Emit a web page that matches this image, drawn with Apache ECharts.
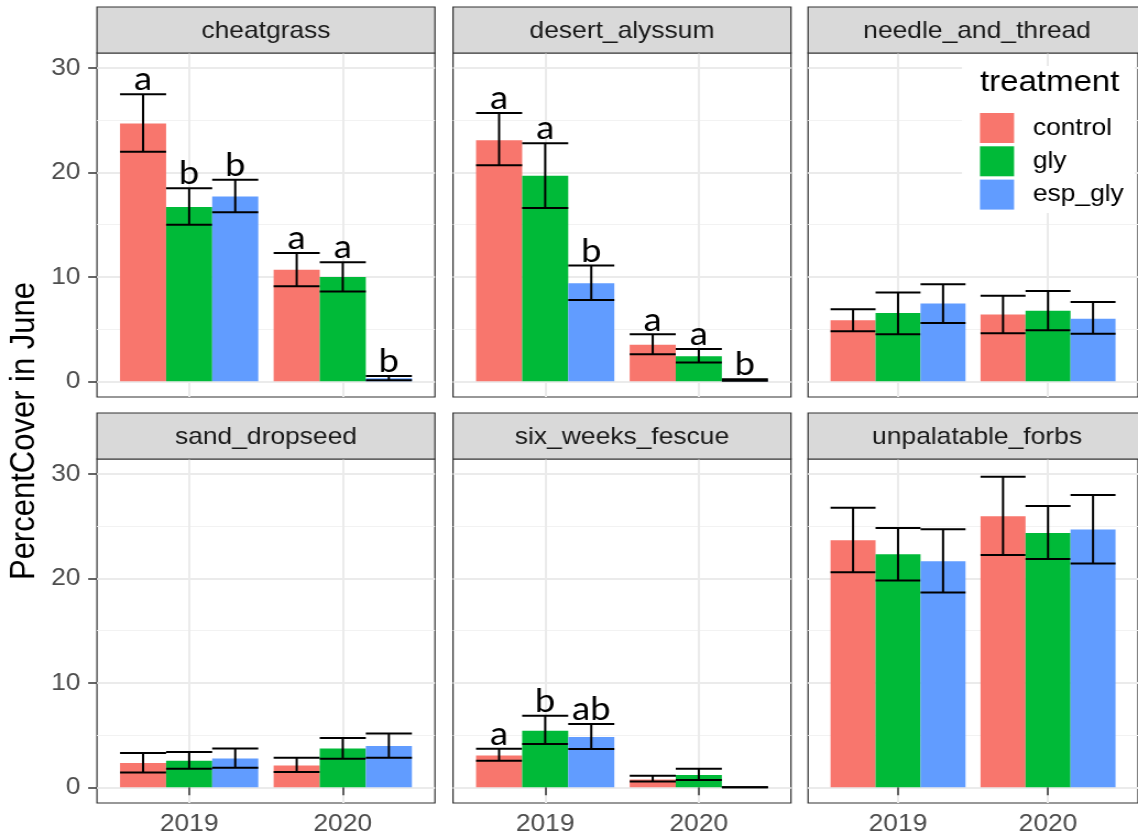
<!DOCTYPE html>
<html>
<head>
<meta charset="utf-8">
<script src="https://cdn.jsdelivr.net/npm/echarts@6/dist/echarts.min.js"></script>
<style>
  html, body { margin: 0; padding: 0; overflow: hidden; background: #fff; width: 1138px; height: 840px; }
  /* the figure is drawn a little narrower and widened horizontally as a whole */
  #chart { width: 1034px; height: 840px; transform: scaleX(1.10058); transform-origin: 0 0; }
</style>
</head>
<body>
<div id="chart"></div>
<script>
// ---- data ---------------------------------------------------------------
const species = ['cheatgrass', 'desert_alyssum', 'needle_and_thread',
                 'sand_dropseed', 'six_weeks_fescue', 'unpalatable_forbs'];
const years = ['2019', '2020'];
const treatments = ['control', 'gly', 'esp_gly'];
const yTicks = [0, 10, 20, 30];
const yMinorTicks = [5, 15, 25];

// rows: control, gly, esp_gly; columns: 2019, 2020
const cheatgrassMean  = [[24.7, 10.7], [16.7, 10.0], [17.7, 0.3]];
const cheatgrassLow   = [[22.0, 9.1], [15.0, 8.6], [16.2, 0.1]];
const cheatgrassHigh  = [[27.5, 12.3], [18.5, 11.4], [19.3, 0.5]];
const cheatgrassLetters = [['a', 'a'], ['b', 'a'], ['b', 'b']];

const alyssumMean  = [[23.1, 3.5], [19.7, 2.4], [9.4, 0.1]];
const alyssumLow   = [[20.7, 2.6], [16.6, 1.8], [7.8, 0.05]];
const alyssumHigh  = [[25.7, 4.5], [22.8, 3.1], [11.1, 0.2]];
const alyssumLetters = [['a', 'a'], ['a', 'a'], ['b', 'b']];

const needleMean  = [[5.85, 6.4], [6.55, 6.75], [7.45, 6.0]];
const needleLow   = [[4.8, 4.6], [4.5, 4.9], [5.6, 4.55]];
const needleHigh  = [[6.9, 8.2], [8.5, 8.65], [9.3, 7.6]];

const dropseedMean  = [[2.33, 2.1], [2.55, 3.73], [2.77, 3.96]];
const dropseedLow   = [[1.43, 1.47], [1.79, 2.74], [1.88, 2.84]];
const dropseedHigh  = [[3.29, 2.84], [3.38, 4.72], [3.73, 5.16]];

const fescueMean  = [[3.06, 0.74], [5.42, 1.18], [4.82, 0]];
const fescueLow   = [[2.55, 0.55], [4.15, 0.71], [3.67, 0]];
const fescueHigh  = [[3.7, 1.12], [6.85, 1.79], [6.06, 0]];
const fescueLetters = [['a', ''], ['b', ''], ['ab', '']];

const forbsMean  = [[23.66, 25.96], [22.33, 24.36], [21.66, 24.69]];
const forbsLow   = [[20.61, 22.26], [19.81, 21.88], [18.67, 21.44]];
const forbsHigh  = [[26.79, 29.75], [24.84, 26.94], [24.72, 27.99]];

const panelData = [
  [cheatgrassMean, cheatgrassLow, cheatgrassHigh, cheatgrassLetters],
  [alyssumMean, alyssumLow, alyssumHigh, alyssumLetters],
  [needleMean, needleLow, needleHigh, null],
  [dropseedMean, dropseedLow, dropseedHigh, null],
  [fescueMean, fescueLow, fescueHigh, fescueLetters],
  [forbsMean, forbsLow, forbsHigh, null]
];

// ---- styling / layout ---------------------------------------------------
const treatmentColors = ['#F8766D', '#00BA38', '#619CFF'];
const FONT = '"Liberation Sans", Arial, sans-serif';
const LETTER_FONT = 'Lato, "Open Sans", sans-serif';
const colLeft = [88.1, 411.6, 734.2];
const panelW = 307.1;
const rowTop = [53, 459];
const panelH = 344;
const stripH = 46;
const Y_MIN = -1.5, Y_MAX = 31.45;
const X_MIN = 0.4, X_MAX = 2.6;
const dodge = [-0.3, 0, 0.3];
const barHalf = 0.15;

const grids = [], xAxes = [], yAxes = [], series = [], graphics = [];

species.forEach((name, p) => {
  const row = Math.floor(p / 3), col = p % 3;
  const left = colLeft[col], top = rowTop[row];
  const bottomRow = row === 1, firstCol = col === 0;

  grids.push({
    left: left, top: top, width: panelW, height: panelH,
    show: true, backgroundColor: '#ffffff', borderColor: '#333333', borderWidth: 1.2
  });

  xAxes.push({
    type: 'value', gridIndex: p, min: X_MIN, max: X_MAX,
    axisLine: { show: false },
    axisTick: { show: bottomRow, customValues: [1, 2], length: 8,
                lineStyle: { color: '#333333', width: 1.5 } },
    axisLabel: { show: bottomRow, customValues: [1, 2], margin: 9,
                 formatter: v => years[Math.round(v) - 1],
                 color: '#4D4D4D', fontSize: 24, fontFamily: FONT },
    splitLine: { show: true, lineStyle: { color: '#EBEBEB', width: 2 } }
  });

  // major grid + tick labels
  yAxes.push({
    type: 'value', gridIndex: p, min: Y_MIN, max: Y_MAX,
    axisLine: { show: false },
    axisTick: { show: firstCol, customValues: yTicks, length: 8,
                lineStyle: { color: '#333333', width: 1.5 } },
    axisLabel: { show: firstCol, customValues: yTicks, margin: 15,
                 color: '#4D4D4D', fontSize: 24, fontFamily: FONT },
    splitLine: { show: true, lineStyle: { color: '#EBEBEB', width: 2 } }
  });
  // minor grid only
  yAxes.push({
    type: 'value', gridIndex: p, min: Y_MIN, max: Y_MAX,
    axisLine: { show: false },
    axisTick: { show: false, customValues: yMinorTicks },
    axisLabel: { show: false },
    splitLine: { show: true, lineStyle: { color: '#F2F2F2', width: 1.2 } }
  });

  const [means, lows, highs, letters] = panelData[p];

  treatments.forEach((tr, t) => {
    series.push({
      type: 'custom', name: tr,
      xAxisIndex: p, yAxisIndex: 2 * p,
      itemStyle: { color: treatmentColors[t] },
      silent: true, z: 3,
      encode: { x: 0, y: 1 },
      data: years.map((yr, i) => [i + 1 + dodge[t], means[t][i], lows[t][i], highs[t][i]]),
      renderItem: (params, api) => {
        const xc = api.value(0), m = api.value(1), lo = api.value(2), hi = api.value(3);
        const a = api.coord([xc - barHalf, m]);
        const b = api.coord([xc + barHalf, 0]);
        const pLo = api.coord([xc, lo]);
        const pHi = api.coord([xc, hi]);
        const xL = a[0], xR = b[0];
        const lineStyle = { stroke: '#000000', lineWidth: 2 };
        const children = [];
        if (Math.abs(b[1] - a[1]) > 0) {
          children.push({
            type: 'rect',
            shape: { x: xL, y: Math.min(a[1], b[1]), width: xR - xL, height: Math.abs(b[1] - a[1]) },
            style: { fill: api.visual('color') }
          });
        }
        children.push({ type: 'line', shape: { x1: pHi[0], y1: pHi[1], x2: pLo[0], y2: pLo[1] }, style: lineStyle });
        children.push({ type: 'line', shape: { x1: xL, y1: pHi[1], x2: xR, y2: pHi[1] }, style: lineStyle });
        children.push({ type: 'line', shape: { x1: xL, y1: pLo[1], x2: xR, y2: pLo[1] }, style: lineStyle });
        const letter = letters ? letters[t][params.dataIndex] : '';
        if (letter) {
          children.push({
            type: 'text', x: pHi[0], y: pHi[1] + 2,
            style: { text: letter, fill: '#000000', fontSize: 33, fontFamily: LETTER_FONT,
                     align: 'center', verticalAlign: 'bottom' }
          });
        }
        return { type: 'group', children: children };
      }
    });
  });

  // facet strip
  graphics.push({
    type: 'rect', z: 1,
    shape: { x: left, y: top - stripH, width: panelW, height: stripH },
    style: { fill: '#D9D9D9', stroke: '#333333', lineWidth: 1.2 }
  });
  graphics.push({
    type: 'text', z: 2, x: left + panelW / 2, y: top - stripH / 2 + 1,
    style: { text: name, fill: '#1A1A1A', fontSize: 24, fontFamily: FONT,
             align: 'center', verticalAlign: 'middle' }
  });
});

// legend backdrop and title
graphics.push({
  type: 'rect', z: 5,
  shape: { x: 874.1, y: 66, width: 157.2, height: 147 },
  style: { fill: '#ffffff' }
});
graphics.push({
  type: 'text', z: 10, x: 890.4, y: 83,
  style: { text: 'treatment', fill: '#000000', fontSize: 30, fontFamily: FONT,
           align: 'left', verticalAlign: 'middle' }
});
// y axis title shared by all panels
graphics.push({
  type: 'text', z: 10, x: 22.7, y: 431, rotation: Math.PI / 2,
  style: { text: 'PercentCover in June', fill: '#000000', fontSize: 31, fontFamily: FONT,
           align: 'center', verticalAlign: 'middle' }
});

const chart = echarts.init(document.getElementById('chart'), null, { renderer: 'canvas' });
chart.setOption({
  animation: false,
  backgroundColor: '#ffffff',
  textStyle: { fontFamily: FONT },
  grid: grids,
  xAxis: xAxes,
  yAxis: yAxes,
  legend: {
    data: treatments,
    orient: 'vertical', left: 890.4, top: 113,
    itemWidth: 31, itemHeight: 30, itemGap: 3.3,
    icon: 'rect', padding: 0, selectedMode: false, z: 10,
    textStyle: { fontSize: 24, color: '#000000', fontFamily: FONT, padding: [0, 0, 0, 12] }
  },
  graphic: graphics,
  series: series
});
</script>
</body>
</html>
